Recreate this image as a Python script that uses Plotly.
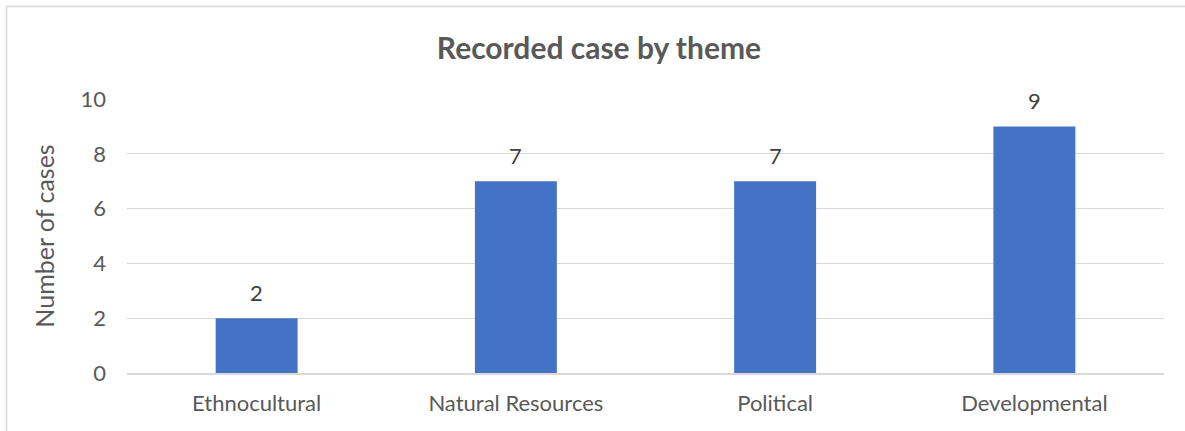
import plotly.graph_objects as go

categories = ["Ethnocultural", "Natural Resources", "Political", "Developmental"]
cases = [2, 7, 7, 9]
y_ticks = [0, 2, 4, 6, 8, 10]

W, H = 1185, 431
ml, mr, mt, mb = 127, 21, 99, 58
pw, ph = W - ml - mr, H - mt - mb
font = "Lato, Open Sans, sans-serif"

fig = go.Figure(go.Bar(
    x=categories, y=cases,
    marker=dict(color="#4472C4", line=dict(width=0)),
    cliponaxis=False,
))

annotations = [dict(x=c, y=v, xref="x", yref="y", text=str(v), showarrow=False,
                    yanchor="bottom", yshift=10,
                    font=dict(family=font, size=22, color="#404040"))
               for c, v in zip(categories, cases)]

fig.update_layout(
    width=W, height=H,
    margin=dict(l=ml, r=mr, t=mt, b=mb),
    paper_bgcolor="white", plot_bgcolor="white",
    bargap=0.684,
    showlegend=False,
    annotations=annotations,
    title=dict(text="<b>Recorded case by theme</b>", x=599 / W, xref="container",
               y=1 - 48 / H, yref="container", yanchor="middle", xanchor="center",
               font=dict(family=font, size=30, color="#595959")),
    xaxis=dict(showgrid=False, showline=True, linecolor="#d9d9d9", linewidth=1.5,
               ticks="", tickfont=dict(family=font, size=22, color="#595959"),
               ticklabelstandoff=10),
    yaxis=dict(range=[0, 10], tickvals=y_ticks, showgrid=True, gridcolor="#d9d9d9",
               gridwidth=1.3, zeroline=False, showline=False, ticks="",
               tickfont=dict(family=font, size=22, color="#595959"),
               ticklabelstandoff=20,
               title=dict(text="Number of cases", standoff=18,
                          font=dict(family=font, size=25, color="#595959"))),
    shapes=[dict(type="rect", xref="paper", yref="paper",
                 x0=(6.5 - ml) / pw, x1=(W + 10 - ml) / pw,
                 y0=-(mb + 10) / ph, y1=1 + (mt - 6.5) / ph,
                 line=dict(color="#d9d9d9", width=1.5), layer="below")],
)

fig.write_html("out.html")
